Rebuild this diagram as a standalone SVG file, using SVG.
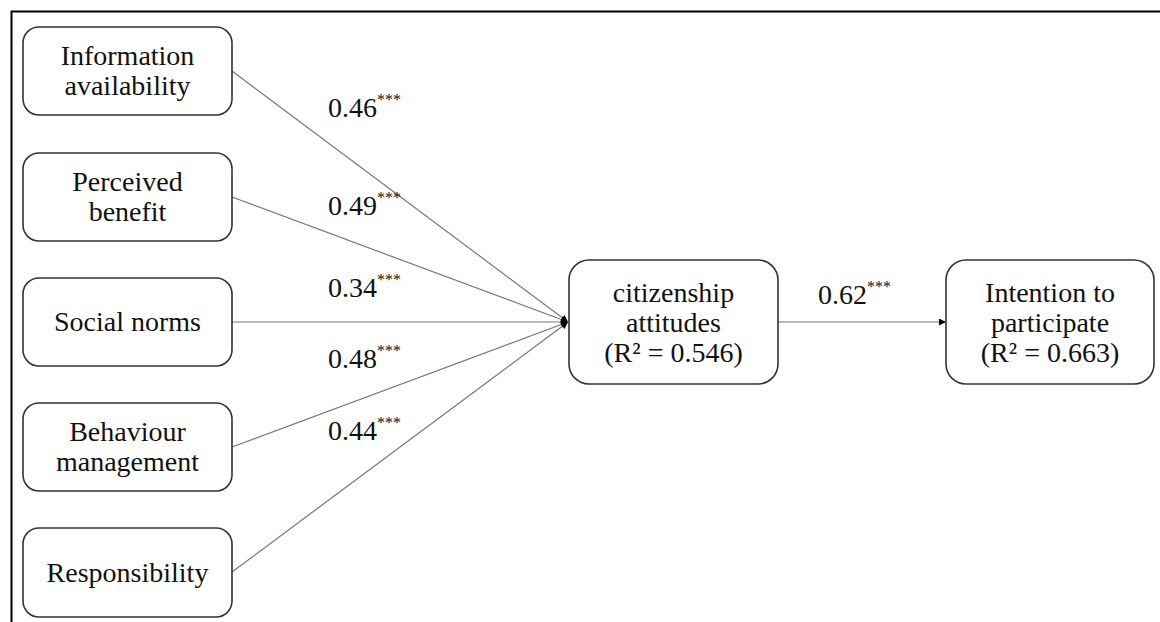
<svg xmlns="http://www.w3.org/2000/svg" width="1160" height="622" viewBox="0 0 1160 622">
<style>
.box{fill:#fff;stroke:#333;stroke-width:1.6}
.t{font-family:"Liberation Serif","Times New Roman",serif;font-size:28px;fill:#111;text-anchor:middle}
.c{font-family:"Liberation Serif","Times New Roman",serif;font-size:28px;fill:#111}
.s{font-size:16px}
.e{stroke:#777;stroke-width:1.2;fill:none}
</style>
<defs>
<marker id="ah" viewBox="0 0 10 10" refX="10" refY="5" markerWidth="9" markerHeight="7" markerUnits="userSpaceOnUse" orient="auto">
<path d="M0,0 L10,5 L0,10 z" fill="#000"/>
</marker>
</defs>
<rect width="1160" height="622" fill="#fff"/>
<path d="M11.5,622 V11.5 H1160" fill="none" stroke="#000" stroke-width="2"/>
<g id="connectors">
<line class="e" x1="232" y1="71" x2="568" y2="322" marker-end="url(#ah)"/>
<line class="e" x1="232" y1="197" x2="568" y2="322" marker-end="url(#ah)"/>
<line class="e" x1="232" y1="322" x2="568" y2="322" marker-end="url(#ah)"/>
<line class="e" x1="232" y1="447" x2="568" y2="322" marker-end="url(#ah)"/>
<line class="e" x1="232" y1="572" x2="568" y2="322" marker-end="url(#ah)"/>
<line class="e" x1="778" y1="322" x2="946" y2="322" marker-end="url(#ah)"/>
<text class="c" x="328" y="117">0.46<tspan class="s" dy="-12">***</tspan></text>
<text class="c" x="328" y="215">0.49<tspan class="s" dy="-12">***</tspan></text>
<text class="c" x="328" y="297">0.34<tspan class="s" dy="-12">***</tspan></text>
<text class="c" x="328" y="368">0.48<tspan class="s" dy="-12">***</tspan></text>
<text class="c" x="328" y="440">0.44<tspan class="s" dy="-12">***</tspan></text>
<text class="c" x="818" y="304">0.62<tspan class="s" dy="-12">***</tspan></text>
</g>
<g id="n-info">
<rect class="box" x="23" y="27" width="209" height="88" rx="16"/>
<text class="t" x="127.5" y="65">Information</text>
<text class="t" x="127.5" y="95">availability</text>
</g>
<g id="n-benefit">
<rect class="box" x="23" y="153" width="209" height="88" rx="16"/>
<text class="t" x="127.5" y="191">Perceived</text>
<text class="t" x="127.5" y="221">benefit</text>
</g>
<g id="n-norms">
<rect class="box" x="23" y="278" width="209" height="88" rx="16"/>
<text class="t" x="127.5" y="331">Social norms</text>
</g>
<g id="n-behaviour">
<rect class="box" x="23" y="403" width="209" height="88" rx="16"/>
<text class="t" x="127.5" y="441">Behaviour</text>
<text class="t" x="127.5" y="471">management</text>
</g>
<g id="n-resp">
<rect class="box" x="23" y="528" width="209" height="89" rx="16"/>
<text class="t" x="127.5" y="582">Responsibility</text>
</g>
<g id="n-citizen">
<rect class="box" x="569" y="260" width="209" height="124" rx="20"/>
<text class="t" x="673.5" y="301.5">citizenship</text>
<text class="t" x="673.5" y="331.5">attitudes</text>
<text class="t" x="673.5" y="361.5">(R² = 0.546)</text>
</g>
<g id="n-intention">
<rect class="box" x="946" y="260" width="208" height="124" rx="20"/>
<text class="t" x="1050" y="301.5">Intention to</text>
<text class="t" x="1050" y="331.5">participate</text>
<text class="t" x="1050" y="361.5">(R² = 0.663)</text>
</g>
</svg>
